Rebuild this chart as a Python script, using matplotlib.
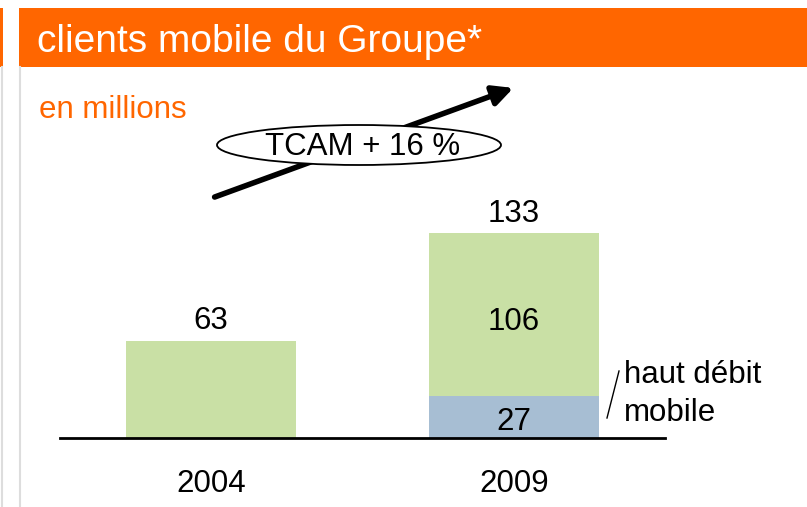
import matplotlib
matplotlib.use("Agg")
import matplotlib.pyplot as plt
from matplotlib.patches import Ellipse, Rectangle, FancyArrowPatch

plt.rcParams["font.family"] = ["Liberation Sans", "DejaVu Sans"]

years = ["2004", "2009"]
total = [63, 133]
haut_debit = [0, 27]
autres = [63, 106]

ORANGE = "#FF6600"
GREEN = "#C9E0A5"
BLUE = "#A7BED3"

W, H = 807, 507
fig = plt.figure(figsize=(W / 100, H / 100), dpi=100)


def fx(px):
    return px / W


def fy(py):
    return 1 - py / H


# header and page frame
fig.patches.append(Rectangle((fx(0), fy(67)), fx(3), 59 / H, transform=fig.transFigure,
                             color=ORANGE, lw=0))
fig.patches.append(Rectangle((fx(19), fy(67)), fx(788), 59 / H, transform=fig.transFigure,
                             color=ORANGE, lw=0))
fig.add_artist(plt.Line2D([fx(2), fx(2)], [fy(67), 0], transform=fig.transFigure,
                          color="#DDDDDD", lw=1.5))
fig.add_artist(plt.Line2D([fx(20), fx(20)], [fy(67), 0], transform=fig.transFigure,
                          color="#DDDDDD", lw=1.5))
fig.text(fx(37), fy(52), "clients mobile du Groupe*", color="white", fontsize=28,
         va="baseline", ha="left")
fig.text(fx(39), fy(118), "en millions", color=ORANGE, fontsize=22.5, va="baseline", ha="left")

# bars: baseline at y=438px, 1.54 px per million; x 0 -> 211px, 1 -> 514px
ymax = 140
ax = fig.add_axes([fx(60), fy(438), fx(605), ymax * 1.54 / H])
ax.set_xlim(-0.498, 1.498)
ax.set_ylim(0, ymax)
x = [0, 1]
ax.bar(x, haut_debit, width=0.56, color=BLUE, lw=0)
ax.bar(x, autres, bottom=haut_debit, width=0.56, color=GREEN, lw=0)
for s in ["top", "right", "left"]:
    ax.spines[s].set_visible(False)
ax.spines["bottom"].set_linewidth(2)
ax.set_yticks([])
ax.set_xticks(x)
ax.set_xticklabels([])
ax.tick_params(axis="x", length=0)
ax.patch.set_alpha(0)

fs = 22.5
for xi, yr in zip(x, years):
    ax.text(xi, -35.1, yr, ha="center", va="baseline", fontsize=fs, clip_on=False)
for xi, t in zip(x, total):
    ax.text(xi, t + 7.5, str(t), ha="center", va="baseline", fontsize=fs)
ax.text(1, 70, str(autres[1]), ha="center", va="baseline", fontsize=fs)
ax.text(1, 5.2, str(haut_debit[1]), ha="center", va="baseline", fontsize=fs)

# haut debit mobile note
fig.add_artist(plt.Line2D([fx(607), fx(619)], [fy(418), fy(371)], transform=fig.transFigure,
                          color="black", lw=1))
fig.text(fx(624), fy(383), "haut débit", fontsize=fs, va="baseline", ha="left")
fig.text(fx(624), fy(421), "mobile", fontsize=fs, va="baseline", ha="left")

# growth arrow and TCAM ellipse
fig.patches.append(FancyArrowPatch((fx(212), fy(198)), (fx(516), fy(87)),
                                   transform=fig.transFigure, arrowstyle="-|>",
                                   mutation_scale=30, lw=4, color="black"))
fig.patches.append(Ellipse((fx(359), fy(145)), fx(284), 40 / H, transform=fig.transFigure,
                           facecolor="white", edgecolor="black", lw=1.3, zorder=3))
fig.text(fx(363), fy(155), "TCAM + 16 %", fontsize=fs, ha="center", va="baseline", zorder=4)

fig.savefig("out.png", dpi=100)
